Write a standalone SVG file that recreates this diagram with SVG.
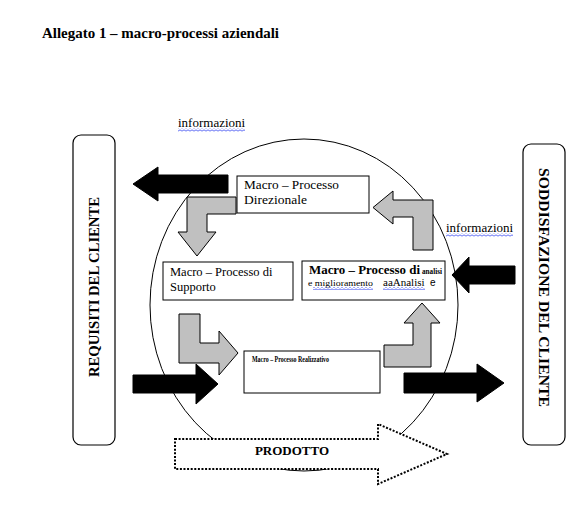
<svg xmlns="http://www.w3.org/2000/svg" width="586" height="512" viewBox="0 0 586 512">
<style>
.t{font-family:"Liberation Serif","Times New Roman",serif;fill:#000}
.b{font-weight:bold}
.box{fill:#fff;stroke:#000;stroke-width:1}
.gray{fill:#c0c0c0;stroke:#000;stroke-width:1}
.blk{fill:#000;stroke:#000;stroke-width:1}
.side{fill:#fff;stroke:#000;stroke-width:1.2}
</style>
<defs>
<pattern id="wave" width="4" height="3" patternUnits="userSpaceOnUse">
<path d="M0,0.5 L2,2.5 L4,0.5" fill="none" stroke="#2a3cf0" stroke-width="1"/>
</pattern>
</defs>
<rect width="586" height="512" fill="#fff"/>
<text class="t b" x="42" y="38" font-size="14" textLength="237" lengthAdjust="spacingAndGlyphs">Allegato 1 – macro-processi aziendali</text>

<ellipse cx="304" cy="305" rx="154" ry="166" fill="none" stroke="#000" stroke-width="1"/>

<g id="requisiti">
<rect class="side" x="73" y="135" width="42" height="310" rx="8"/>
<text class="t b" transform="translate(99,287) rotate(-90)" text-anchor="middle" font-size="14.5" textLength="180" lengthAdjust="spacingAndGlyphs">REQUISITI DEL CLIENTE</text>
</g>
<g id="soddisfazione">
<rect class="side" x="523" y="144" width="42" height="301" rx="8"/>
<text class="t b" transform="translate(539,287.5) rotate(90)" text-anchor="middle" font-size="15" textLength="239" lengthAdjust="spacingAndGlyphs">SODDISFAZIONE DEL CLIENTE</text>
</g>

<g id="connectors">
<path class="blk" d="M228,175 L158,175 L158,167 L133,184 L158,201 L158,193 L228,193 Z"/>
<path class="blk" d="M515,266 L469,266 L469,257 L452,275 L469,293 L469,284 L515,284 Z"/>
<path class="blk" d="M133,375 L196,375 L196,364 L218,384 L196,404 L196,393 L133,393 Z"/>
<path class="blk" d="M404,373 L477,373 L477,364 L504,383 L477,402 L477,393 L404,393 Z"/>
<path class="gray" d="M236,197 L187,197 L187,232 L178,232 L197,256 L216,232 L207,232 L207,214 L236,214 Z"/>
<path class="gray" d="M179,314 L200,314 L200,343 L219,343 L219,331 L238,353 L219,375 L219,363 L179,363 Z"/>
<path class="gray" d="M384,345 L413,345 L413,323 L404,323 L422,303 L440,323 L431,323 L431,367 L384,367 Z"/>
<path class="gray" d="M433,250 L413,250 L413,217 L393,217 L393,224 L373,207.5 L393,191 L393,200 L433,200 Z"/>
<path d="M175,439 L378,439 L378,424 L447,454 L378,484 L378,469 L175,469 Z" fill="#fff" stroke="#000" stroke-width="2" stroke-dasharray="2,1.6"/>
<text class="t b" x="292" y="455" text-anchor="middle" font-size="13">PRODOTTO</text>
<text class="t" x="178" y="127" font-size="13">informazioni</text>
<rect x="178" y="128.5" width="67" height="3" fill="url(#wave)"/>
<text class="t" x="446" y="232" font-size="13">informazioni</text>
<rect x="446" y="233.5" width="67" height="3" fill="url(#wave)"/>
</g>

<g id="direzionale">
<rect class="box" x="237" y="176" width="132" height="37"/>
<text class="t" x="244" y="189" font-size="12.5" textLength="95" lengthAdjust="spacingAndGlyphs">Macro – Processo</text>
<text class="t" x="244" y="204" font-size="12.5" textLength="63" lengthAdjust="spacingAndGlyphs">Direzionale</text>
</g>

<g id="supporto">
<rect class="box" x="163" y="262" width="130" height="38"/>
<text class="t" x="170" y="276" font-size="12.5">Macro – Processo di</text>
<text class="t" x="170" y="291" font-size="12.5">Supporto</text>
</g>

<g id="analisi">
<rect class="box" x="302" y="261" width="143" height="39"/>
<text class="t b" x="309" y="274" font-size="12.5" textLength="111" lengthAdjust="spacingAndGlyphs">Macro – Processo di</text>
<text class="t b" x="422" y="274" font-size="7.5" textLength="20" lengthAdjust="spacingAndGlyphs">analisi</text>
<text class="t" x="308" y="286" font-size="8.5" textLength="65" lengthAdjust="spacingAndGlyphs">e miglioramento</text>
<rect x="313" y="287" width="60" height="3" fill="url(#wave)"/>
<text class="t" x="383" y="286" font-size="11">aaAnalisi</text>
<rect x="383" y="287" width="42" height="3" fill="url(#wave)"/>
<text x="430" y="286" font-size="10" font-family="Liberation Sans, Arial, sans-serif">e</text>
</g>

<g id="realizzativo">
<rect class="box" x="244" y="351" width="136" height="42"/>
<text class="t b" x="252" y="362" font-size="9" textLength="77" lengthAdjust="spacingAndGlyphs">Macro – Processo Realizzativo</text>
</g>
</svg>
